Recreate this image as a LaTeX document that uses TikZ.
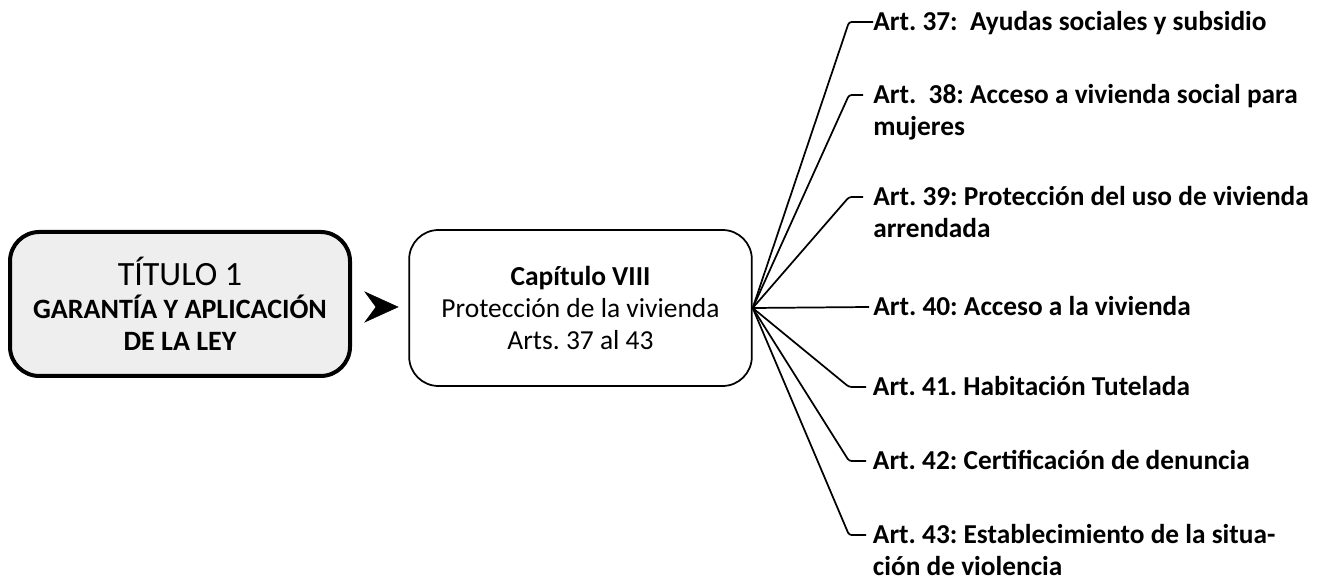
\documentclass[tikz,border=0pt]{standalone}
\usepackage{fontspec}
\setmainfont{Carlito}
\usetikzlibrary{positioning}
\frenchspacing

\begin{document}
\begin{tikzpicture}[x=0.75pt,y=0.75pt,yscale=-1,xscale=1,
  titbox/.style={draw,line width=3pt,rounded corners=22pt,fill={rgb,255:red,238;green,238;blue,238},minimum width=255pt,minimum height=108pt,align=center,inner sep=0pt},
  capbox/.style={draw,line width=1.3pt,rounded corners=22pt,fill=white,minimum width=257pt,minimum height=117pt,align=center,inner sep=0pt},
  artlab/.style={anchor=base west,inner sep=0pt,align=left,font=\fontsize{20.5}{23.6}\selectfont\bfseries},
  branch/.style={line width=1.3pt,rounded corners=2pt}]
%set diagram left start at 0, and has height of 580
\useasboundingbox (0,0) rectangle (1326,580);

%Shape: Rounded Rect [titulo]
\node[titbox,font=\fontsize{21}{24}\selectfont] (tit) at (180,304) {{\fontsize{25.5}{27}\selectfont TÍTULO 1}\\[1pt]\bfseries GARANTÍA Y APLICACIÓN\\\bfseries DE LA LEY};
%Shape: Rounded Rect [capitulo]
\node[capbox,font=\fontsize{20.6}{24}\selectfont] (chap) at (580.5,308) {\bfseries Capítulo VIII\\Protección de la vivienda\\Arts. 37 al 43};
%Shape: Arrowhead
\draw[fill=black] (398,307) -- (365,292) -- (376,307) -- (365,322) -- cycle;

% Text Node
\coordinate (k37) at (873,22);
\node[artlab] (a37) at ([yshift=6.6pt]k37) {Art. 37:~ Ayudas sociales y subsidio};
% Text Node (two lines: base is the last line)
\coordinate (k38) at (863,95);
\node[artlab] (a38) at ([xshift=7.5pt,yshift=30.2pt]k38) {Art.~ 38: Acceso a vivienda social para\\mujeres};
% Text Node
\coordinate (k39) at (863,197);
\node[artlab] (a39) at ([xshift=7.5pt,yshift=30.2pt]k39) {Art. 39: Protección del uso de vivienda\\arrendada};
% Text Node
\coordinate (k40) at (869,307);
\node[artlab] (a40) at ([xshift=3pt,yshift=6.6pt]k40) {Art. 40: Acceso a la vivienda};
% Text Node
\coordinate (k41) at (866,387);
\node[artlab] (a41) at ([xshift=5pt,yshift=6.6pt]k41) {Art. 41. Habitación Tutelada};
% Text Node
\coordinate (k42) at (866,461);
\node[artlab] (a42) at ([xshift=5pt,yshift=6.6pt]k42) {Art. 42: Certificación de denuncia};
% Text Node
\coordinate (k43) at (866,535);
\node[artlab] (a43) at ([xshift=5pt,yshift=30.2pt]k43) {Art. 43: Establecimiento de la situa-\\ción de violencia};

%Branches
\draw[branch] (chap.east) -- ([xshift=-18pt]k37) -- (k37);
\draw[branch] (chap.east) -- ([xshift=-10.5pt]k38) -- (k38);
\draw[branch] (chap.east) -- ([xshift=-10.5pt]k39) -- (k39);
\draw[branch] (chap.east) -- (k40);
\draw[branch] (chap.east) -- ([xshift=-12.75pt]k41) -- (k41);
\draw[branch] (chap.east) -- ([xshift=-12.75pt]k42) -- (k42);
\draw[branch] (chap.east) -- ([xshift=-12.75pt]k43) -- (k43);
\end{tikzpicture}
\end{document}
